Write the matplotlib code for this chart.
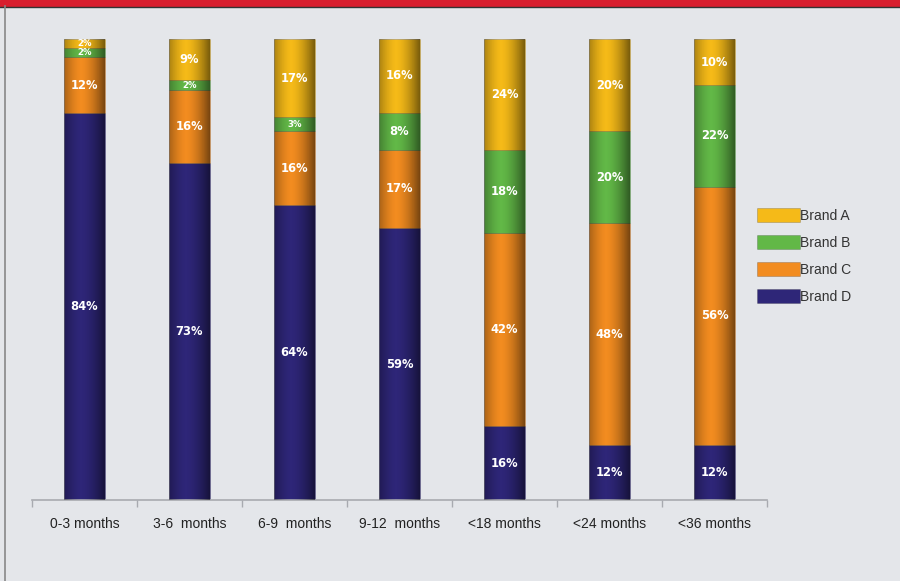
import matplotlib
matplotlib.use("Agg")
import matplotlib.pyplot as plt
import numpy as np
from matplotlib.patches import Rectangle

categories = ["0-3 months", "3-6  months", "6-9  months", "9-12  months", "<18 months", "<24 months", "<36 months"]
brand_d = [84, 73, 64, 59, 16, 12, 12]
brand_c = [12, 16, 16, 17, 42, 48, 56]
brand_b = [2, 2, 3, 8, 18, 20, 22]
brand_a = [2, 9, 17, 16, 24, 20, 10]

series = [("Brand D", brand_d, "#2E2678"),
          ("Brand C", brand_c, "#F28C20"),
          ("Brand B", brand_b, "#62B847"),
          ("Brand A", brand_a, "#F5BA18")]

bg = "#E4E6EA"
fig = plt.figure(figsize=(9, 5.81), dpi=100, facecolor=bg)
ax = fig.add_axes([32/900, 1 - 500/581, (767-32)/900, (500-39)/581])
ax.set_facecolor(bg)

# horizontal shading profile for a cylindrical look
t = np.linspace(0, 1, 64)
shade_alpha = np.clip(0.55 * np.abs(t - 0.42) ** 1.6 * 2.2, 0, 0.5)
shade = np.zeros((1, 64, 4))
shade[0, :, 3] = shade_alpha

x = np.arange(len(categories))
bottom = np.zeros(len(categories))
handles = {}
for name, vals, col in series:
    vals = np.array(vals, dtype=float)
    bars = ax.bar(x, vals, bottom=bottom, width=0.39, color=col,
                  edgecolor=(0, 0, 0, 0.2), linewidth=0.6, label=name, zorder=2)
    handles[name] = bars
    for p in bars.patches:
        x0, y0 = p.get_x(), p.get_y()
        im = ax.imshow(shade, extent=[x0, x0 + p.get_width(), y0, y0 + p.get_height()],
                       aspect="auto", interpolation="bilinear", zorder=3)
        im.set_clip_path(p)
    for xi, b, v in zip(x, bottom, vals):
        fs = 8.3 if v >= 5 else 6.2
        ax.text(xi, b + v / 2, f"{int(v)}%", ha="center", va="center",
                color="white", fontsize=fs, fontweight="bold",
                family="DejaVu Sans", zorder=5)
    bottom += vals

ax.set_xlim(-0.5, len(categories) - 0.5)
ax.set_ylim(0, 100)
for s in ["top", "right", "left"]:
    ax.spines[s].set_visible(False)
ax.spines["bottom"].set_color("#A8AAB0")
ax.spines["bottom"].set_linewidth(1.2)
ax.set_yticks([])
ax.set_xticks(x)
ax.set_xticklabels(categories, fontsize=10, family=["Liberation Sans", "DejaVu Sans"], color="#222222")
ax.tick_params(axis="x", which="major", length=0, pad=12)
ax.set_xticks(np.arange(-0.5, len(categories)), minor=True)
ax.tick_params(axis="x", which="minor", length=5, color="#A8AAB0", width=1)

order = ["Brand A", "Brand B", "Brand C", "Brand D"]
leg = fig.legend([handles[n] for n in order], order, loc="upper left",
                 bbox_to_anchor=(744/900, 1 - 196/581), frameon=False,
                 handlelength=3.1, handleheight=1.1, handletextpad=0.05,
                 labelspacing=0.9, prop={"family": "Liberation Sans", "size": 10})
for t_ in leg.get_texts():
    t_.set_color("#333333")

# frame: red top band and left border
fig.add_artist(Rectangle((0, 1 - 6/581), 1, 6/581, transform=fig.transFigure,
                         color="#D81E2E", zorder=10))
fig.add_artist(plt.Line2D([0, 1], [1 - 6.5/581, 1 - 6.5/581], transform=fig.transFigure,
                          color="#333333", linewidth=1, zorder=11))
fig.add_artist(plt.Line2D([5/900, 5/900], [0, 1 - 6/581], transform=fig.transFigure,
                          color="#888888", linewidth=1.2, zorder=11))

fig.savefig("out.png", dpi=100, facecolor=bg)
